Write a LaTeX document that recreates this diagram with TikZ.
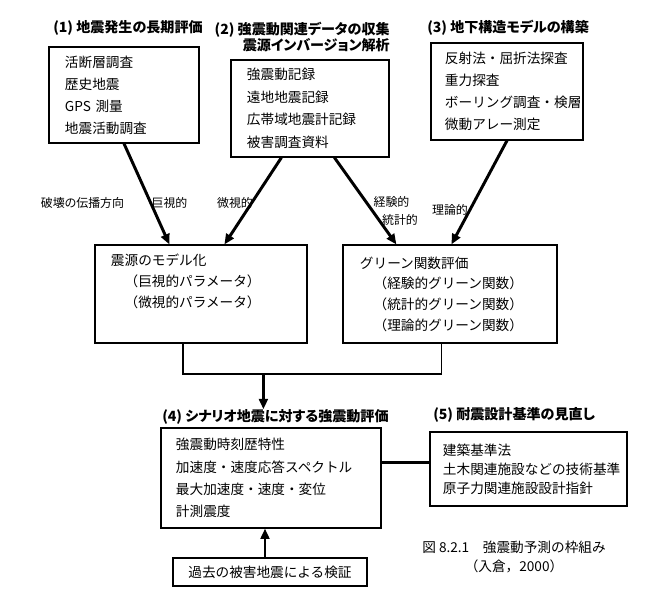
\documentclass[tikz,border=0pt]{standalone}
\usepackage{fontspec}
\setmainfont{Noto Sans CJK JP}
\newfontfamily\titlefont[RawFeature=+palt]{Noto Sans CJK JP}
\usetikzlibrary{calc,arrows.meta}

\tikzset{
  box/.style={draw, line width=0.8pt, inner sep=0pt, align=left},
  title/.style={anchor=west, inner sep=0pt, font=\titlefont\bfseries\fontsize{10}{10}\selectfont},
  tag/.style={inner sep=0pt, font=\titlefont\fontsize{8.5}{10}\selectfont},
  bigarrow/.style={line width=2.1pt, -{Triangle[length=2.6mm,width=2.2mm]}},
  link/.style={line width=1.3pt},
}

\begin{document}
\begin{tikzpicture}[x=0.025cm, y=-0.025cm]
		%%%%% START %%%%%
		\useasboundingbox (0,0) rectangle (658,608);

		% top row
		\node[title] (t1) at (53,28) {(1) 地震発生の長期評価};
		\node[box, minimum width=3.75cm, minimum height=2.4cm, text width=2.95cm,
			font=\fontsize{9.7}{15.6}\selectfont] (longterm) at (124,95)
			{活断層調査\\歴史地震\\GPS 測量\\地震活動調査};

		\node[title, anchor=east, align=right, font=\titlefont\bfseries\fontsize{10}{10}\selectfont] (t2) at (390,37)
			{(2) 強震動関連データの収集\\震源インバージョン解析};
		\node[box, minimum width=3.95cm, minimum height=2.425cm, text width=3.15cm,
			font=\fontsize{9.7}{16.1}\selectfont] (records) at (310,108.5)
			{強震動記録\\遠地地震記録\\広帯域地震計記録\\被害調査資料};

		\node[title] (t3) at (427,28) {(3) 地下構造モデルの構築};
		\node[box, minimum width=3.8cm, minimum height=2.425cm, text width=3.1cm,
			font=\fontsize{9.7}{15.8}\selectfont] (struct) at (507,91.5)
			{反射法・屈折法探査\\重力探査\\ボーリング調査・検層\\微動アレー測定};

		% middle row
		\node[box, minimum width=5.3cm, minimum height=2.45cm, text width=4.5cm,
			font=\fontsize{9.7}{14.6}\selectfont] (source) at (201,294)
			{震源のモデル化\\\hspace*{1em}（巨視的パラメータ）\\\hspace*{1em}（微視的パラメータ）\\\strut};
		\node[box, minimum width=5.35cm, minimum height=2.45cm, text width=4.5cm,
			font=\fontsize{9.7}{14.7}\selectfont] (green) at (450,294)
			{グリーン関数評価\\\hspace*{1em}（経験的グリーン関数）\\\hspace*{1em}（統計的グリーン関数）\\\hspace*{1em}（理論的グリーン関数）};

		\draw[bigarrow] (longterm.south) -- ($(source.north west)+(75,0)$);
		\draw[bigarrow] ($(records.south west)+(51,0)$) -- ($(source.north west)+(130,0)$);
		\draw[bigarrow] ($(records.south west)+(104,0)$) -- ($(green.north west)+(54,0)$);
		\draw[bigarrow] (struct.south) -- ($(green.north west)+(109,0)$);

		\node[tag] (l1) at (82.5,203) {破壊の伝播方向};
		\node[tag] (l2) at (169.5,203) {巨視的};
		\node[tag] (l3) at (235,203) {微視的};
		\node[tag] (l4) at (391.5,202) {経験的};
		\node[tag] (l5) at (400,220) {統計的};
		\node[tag] (l6) at (450,210) {理論的};

		\draw[link] ($(source.south west)+(89,0)$) -- ++(0,30) coordinate (joinl)
			-| ($(green.south west)+(99,0)$);
		\coordinate (merge) at ($(joinl)+(80,0)$);

		% bottom row
		\node[title] (t4) at (162,417) {(4) シナリオ地震に対する強震動評価};
		\draw[bigarrow] (merge) -- (merge |- t4.north);
		\node[box, minimum width=5.5cm, minimum height=2.5cm, text width=4.75cm,
			font=\fontsize{9.7}{15.9}\selectfont] (scenario) at (271,478)
			{強震動時刻歴特性\\加速度・速度応答スペクトル\\最大加速度・速度・変位\\計測震度};

		\node[box, minimum width=4.85cm, minimum height=0.7cm, align=center,
			font=\fontsize{9.7}{12}\selectfont] (verify) at (270,572) {過去の被害地震による検証};
		\coordinate (vtop) at ($(verify.north)+(-5,0)$);
		\draw[bigarrow] (vtop) -- (vtop |- scenario.south);

		\node[title] (t5) at (433,415) {(5) 耐震設計基準の見直し};
		\node[box, minimum width=4.925cm, minimum height=1.85cm, text width=4.275cm,
			font=\fontsize{9.7}{13.5}\selectfont] (codes) at (528.5,469)
			{建築基準法\\土木関連施設などの技術基準\\原子力関連施設設計指針};
		\coordinate (sright) at ($(scenario.north east)+(0,35)$);
		\draw[line width=2pt] (sright) -- (sright -| codes.west);

		% caption
		\node[align=center, inner sep=0pt, font=\fontsize{9.7}{13.5}\selectfont] (cap) at (514,556.5)
			{図 8.2.1　強震動予測の枠組み\\（入倉，2000）};
		%%%%% END %%%%%
	\end{tikzpicture}
\end{document}
